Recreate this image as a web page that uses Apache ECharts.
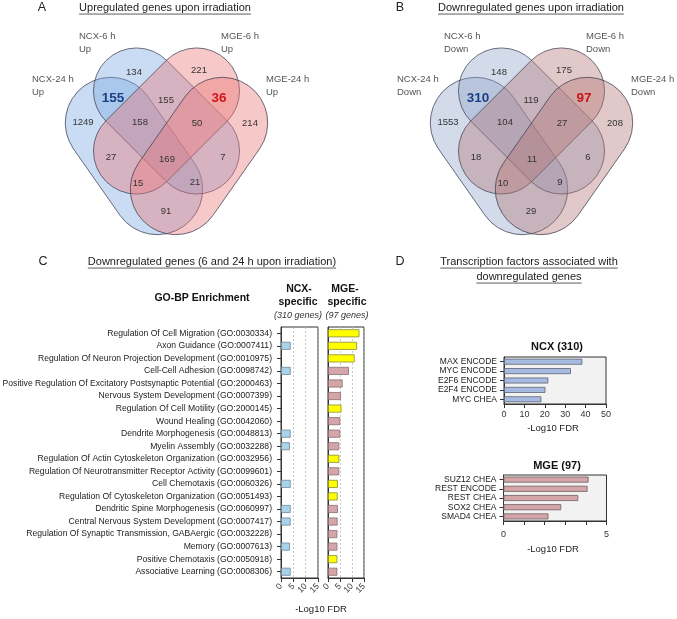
<!DOCTYPE html>
<html><head><meta charset="utf-8">
<script src="https://cdn.jsdelivr.net/npm/echarts@6/dist/echarts.min.js"></script>
<style>html,body{margin:0;padding:0;background:#fff}#c{width:677px;height:619px}</style>
</head><body><div id="c"></div>
<script>
// ---------------- DATA ----------------
const vennSetNames = ['NCX-24 h', 'NCX-6 h', 'MGE-6 h', 'MGE-24 h'];
// region keys: A=NCX-24h, B=NCX-6h, C=MGE-6h, D=MGE-24h
const vennRegions = ['A', 'B', 'C', 'D', 'AB', 'BC', 'CD', 'ABC', 'BCD', 'AC', 'ABCD', 'BD', 'ACD', 'ABD', 'AD'];
const vennUpCounts   = [1249, 134, 221, 214, 155, 155, 36, 158, 50, 27, 169, 7, 15, 21, 91];
const vennDownCounts = [1553, 148, 175, 208, 310, 119, 97, 104, 27, 18, 11, 6, 10, 9, 29];

const goTerms = [
  'Regulation Of Cell Migration (GO:0030334)',
  'Axon Guidance (GO:0007411)',
  'Regulation Of Neuron Projection Development (GO:0010975)',
  'Cell-Cell Adhesion (GO:0098742)',
  'Positive Regulation Of Excitatory Postsynaptic Potential (GO:2000463)',
  'Nervous System Development (GO:0007399)',
  'Regulation Of Cell Motility (GO:2000145)',
  'Wound Healing (GO:0042060)',
  'Dendrite Morphogenesis (GO:0048813)',
  'Myelin Assembly (GO:0032288)',
  'Regulation Of Actin Cytoskeleton Organization (GO:0032956)',
  'Regulation Of Neurotransmitter Receptor Activity (GO:0099601)',
  'Cell Chemotaxis (GO:0060326)',
  'Regulation Of Cytoskeleton Organization (GO:0051493)',
  'Dendritic Spine Morphogenesis (GO:0060997)',
  'Central Nervous System Development (GO:0007417)',
  'Regulation Of Synaptic Transmission, GABAergic (GO:0032228)',
  'Memory (GO:0007613)',
  'Positive Chemotaxis (GO:0050918)',
  'Associative Learning (GO:0008306)'
];
const goNcxSpecific = [null, 3.9, null, 3.9, null, null, null, null, 3.9, 3.6, null, null, 3.9, null, 3.9, 3.9, null, 3.6, null, 3.9];
const goMgeSpecific = [13.1, 12.1, 11.1, 8.7, 6.1, 5.4, 5.6, 5.1, 5.1, 4.7, 4.7, 4.7, 4.1, 4.0, 4.1, 4.0, 3.9, 3.9, 3.9, 3.9];
const goMgeHighlight = [true, true, true, false, false, false, true, false, false, false, true, false, true, true, false, false, false, false, true, false];
const goTicks = [0, 5, 10, 15];

const tfNcxNames = ['MAX ENCODE', 'MYC ENCODE', 'E2F6 ENCODE', 'E2F4 ENCODE', 'MYC CHEA'];
const tfNcxValues = [38.4, 32.8, 21.7, 20.3, 18.3];
const tfNcxTicks = [0, 10, 20, 30, 40, 50];
const tfMgeNames = ['SUZ12 CHEA', 'REST ENCODE', 'REST CHEA', 'SOX2 CHEA', 'SMAD4 CHEA'];
const tfMgeValues = [4.13, 4.08, 3.63, 2.8, 2.18];
const tfMgeTickLabels = [0, 5];

// ---------------- LAYOUT ----------------
const FF = '"Liberation Sans", Arial, Helvetica, sans-serif';
const vennRegionPos = {
  A: [83, 122], B: [134, 72], C: [199, 70], D: [250, 123],
  AB: [113, 98], BC: [166, 100], CD: [219, 98],
  ABC: [140, 122], BCD: [197, 123], AC: [111, 157], ABCD: [167, 159], BD: [223, 157],
  ACD: [138, 183], ABD: [195, 182], AD: [166, 211]
};
const MIRROR_X = 166.5;
const vennInner = { cx: 166.5, cy: 121, L: 171, W: 86, deg: 45 };
const vennOuter = { cx: 134, cy: 156, L: 172, W: 91, deg: 55 };
const vennLabelPos = [[32, 80], [79, 37], [221, 37], [266, 80]];

const G = [];
function txt(x, y, text, o) {
  o = o || {};
  G.push({
    type: 'text', x: x, y: y, silent: true, z: 10,
    style: {
      text: text, fill: o.fill || '#222', fontSize: o.size || 10, fontFamily: FF,
      fontWeight: o.weight || 'normal', fontStyle: o.style || 'normal',
      align: o.align || 'center', textAlign: o.align || 'center',
      verticalAlign: 'middle', textVerticalAlign: 'middle', lineHeight: o.lh || 12
    }
  });
}
const mctx = document.createElement('canvas').getContext('2d');
function tw(text, size, weight) { mctx.font = (weight || 'normal') + ' ' + size + 'px ' + FF; return mctx.measureText(text).width; }
function uline(x, y, text, size) {
  const w = tw(text, size);
  txt(x, y, text, { size: size, fill: '#222' });
  G.push({ type: 'line', silent: true, shape: { x1: x - w / 2, y1: y + size * 0.55, x2: x + w / 2, y2: y + size * 0.55 }, style: { stroke: '#333', lineWidth: 0.8 } });
}
function pill(dx, sh, mirror, fill) {
  const cx = mirror ? 2 * MIRROR_X - sh.cx : sh.cx;
  const rot = (mirror ? 1 : -1) * sh.deg * Math.PI / 180;
  G.push({
    type: 'rect', silent: true, x: cx + dx, y: sh.cy, rotation: rot,
    shape: { x: -sh.L / 2, y: -sh.W / 2, width: sh.L, height: sh.W, r: sh.W / 2 },
    style: { fill: fill, stroke: 'rgba(60,60,80,0.85)', lineWidth: 0.8 }
  });
}

function venn(dx, counts, suffix, blue, red, hiBlue, hiRed) {
  pill(dx, vennOuter, false, blue);   // NCX-24 h
  pill(dx, vennInner, false, blue);   // NCX-6 h
  pill(dx, vennInner, true, red);     // MGE-6 h
  pill(dx, vennOuter, true, red);     // MGE-24 h
  vennRegions.forEach((k, i) => {
    const p = vennRegionPos[k];
    if (k === 'AB') txt(p[0] + dx, p[1], String(counts[i]), { size: 13.5, weight: 'bold', fill: hiBlue });
    else if (k === 'CD') txt(p[0] + dx, p[1], String(counts[i]), { size: 13.5, weight: 'bold', fill: hiRed });
    else txt(p[0] + dx, p[1], String(counts[i]), { size: 9.5, fill: '#333' });
  });
  vennSetNames.forEach((n, i) => {
    const p = vennLabelPos[i];
    txt(p[0] + dx, p[1] + 6, n + '\n' + suffix, { size: 9.5, fill: '#555', align: 'left', lh: 12.5 });
  });
}
venn(0, vennUpCounts, 'Up', 'rgba(122,168,224,0.40)', 'rgba(236,118,118,0.40)', '#1b3f86', '#d0141a');
venn(365, vennDownCounts, 'Down', 'rgba(140,160,200,0.38)', 'rgba(180,112,112,0.38)', '#1b3f86', '#c8141a');

// panel letters and titles
txt(42, 8, 'A', { size: 12.5 });
txt(400, 8, 'B', { size: 12.5 });
txt(43, 262, 'C', { size: 12.5 });
txt(400, 262, 'D', { size: 12.5 });
uline(165, 8, 'Upregulated genes upon irradiation', 11);
uline(531, 8, 'Downregulated genes upon irradiation', 11);
uline(212, 262, 'Downregulated genes (6 and 24 h upon irradiation)', 11);
uline(529, 262, 'Transcription factors associated with', 11);
uline(529, 277, 'downregulated genes', 11);

// GO headers
txt(202, 298, 'GO-BP Enrichment', { size: 10.5, weight: 'bold', fill: '#111' });
txt(299, 289, 'NCX-', { size: 10.5, weight: 'bold', fill: '#111' });
txt(298, 302, 'specific', { size: 10.5, weight: 'bold', fill: '#111' });
txt(298, 315, '(310 genes)', { size: 9, style: 'italic', fill: '#333' });
txt(345, 289, 'MGE-', { size: 10.5, weight: 'bold', fill: '#111' });
txt(347, 302, 'specific', { size: 10.5, weight: 'bold', fill: '#111' });
txt(347, 315, '(97 genes)', { size: 9, style: 'italic', fill: '#333' });
txt(321, 609, '-Log10 FDR', { size: 9.5, fill: '#222' });

// TF titles
txt(557, 347, 'NCX (310)', { size: 11, weight: 'bold', fill: '#111' });
txt(553, 428, '-Log10 FDR', { size: 9.5, fill: '#222' });
txt(557, 466, 'MGE (97)', { size: 11, weight: 'bold', fill: '#111' });
txt(553, 549, '-Log10 FDR', { size: 9.5, fill: '#222' });

// ---------------- CHART ----------------
const axisColor = '#333';
const goMax = goTicks[goTicks.length - 1];
function goX(idx) {
  return {
    type: 'value', gridIndex: idx, position: 'bottom', min: goTicks[0], max: goMax, interval: goTicks[1] - goTicks[0],
    axisLine: { show: true, lineStyle: { color: axisColor, width: 1 } },
    axisTick: { show: true, length: 4, lineStyle: { color: axisColor } },
    axisLabel: { rotate: 45, fontSize: 8.5, color: '#333', margin: 7, fontFamily: FF, showMinLabel: true, formatter: v => v === goMax ? '' : String(v) },
    splitLine: { show: true, lineStyle: { type: [2, 2], color: '#bbb', width: 0.8 } }
  };
}
// second axis on the same grid that carries only the last tick label
function goXMax(idx) {
  return {
    type: 'value', gridIndex: idx, position: 'bottom', offset: 0, min: goTicks[0], max: goMax, interval: goTicks[1] - goTicks[0],
    axisLine: { show: false }, axisTick: { show: false }, splitLine: { show: false },
    axisLabel: { rotate: 45, fontSize: 8.5, color: '#333', margin: 7, fontFamily: FF, showMaxLabel: true, formatter: v => v === goMax ? String(v) : '' }
  };
}
const gridBase = { show: true, borderColor: '#333', borderWidth: 1, containLabel: false, outerBoundsMode: 'none' };

const option = {
  animation: false,
  backgroundColor: '#fff',
  textStyle: { fontFamily: FF },
  graphic: { elements: G },
  grid: [
    Object.assign({ left: 281, top: 327, width: 37, height: 251, backgroundColor: '#fff' }, gridBase),
    Object.assign({ left: 328, top: 327, width: 36, height: 251, backgroundColor: '#fff' }, gridBase),
    Object.assign({ left: 504, top: 357, width: 102, height: 47, backgroundColor: '#f2f2f2' }, gridBase),
    Object.assign({ left: 503.5, top: 475, width: 103, height: 46, backgroundColor: '#f2f2f2' }, gridBase)
  ],
  xAxis: [
    goX(0), goX(1),
    {
      type: 'value', gridIndex: 2, min: tfNcxTicks[0], max: tfNcxTicks[tfNcxTicks.length - 1], interval: tfNcxTicks[1] - tfNcxTicks[0],
      axisLine: { show: true, lineStyle: { color: axisColor } },
      axisTick: { show: true, length: 4, lineStyle: { color: axisColor } },
      axisLabel: { fontSize: 9, color: '#333', margin: 6, fontFamily: FF, showMinLabel: true, showMaxLabel: true },
      splitLine: { show: false }
    },
    {
      type: 'value', gridIndex: 3, min: 0, max: 5, interval: 1,
      axisLine: { show: true, lineStyle: { color: axisColor } },
      axisTick: { show: true, length: 4, lineStyle: { color: axisColor } },
      axisLabel: { fontSize: 9, color: '#333', margin: 9, fontFamily: FF, showMinLabel: true, showMaxLabel: true, formatter: v => tfMgeTickLabels.indexOf(v) >= 0 ? String(v) : '' },
      splitLine: { show: false }
    },
    goXMax(0), goXMax(1)
  ],
  yAxis: [
    {
      type: 'category', gridIndex: 0, data: goTerms, inverse: true,
      axisLine: { show: true, lineStyle: { color: axisColor } },
      axisTick: { show: true, alignWithLabel: true, length: 4, lineStyle: { color: axisColor } },
      axisLabel: { fontSize: 8.6, color: '#222', margin: 9, interval: 0, fontFamily: FF }
    },
    {
      type: 'category', gridIndex: 1, data: goTerms, inverse: true,
      axisLine: { show: true, lineStyle: { color: axisColor } },
      axisTick: { show: false }, axisLabel: { show: false }
    },
    {
      type: 'category', gridIndex: 2, data: tfNcxNames, inverse: true,
      axisLine: { show: true, lineStyle: { color: axisColor } },
      axisTick: { show: true, alignWithLabel: true, length: 4, lineStyle: { color: axisColor } },
      axisLabel: { fontSize: 8.5, color: '#222', margin: 7, interval: 0, fontFamily: FF }
    },
    {
      type: 'category', gridIndex: 3, data: tfMgeNames, inverse: true,
      axisLine: { show: true, lineStyle: { color: axisColor } },
      axisTick: { show: true, alignWithLabel: true, length: 4, lineStyle: { color: axisColor } },
      axisLabel: { fontSize: 8.5, color: '#222', margin: 7, interval: 0, fontFamily: FF }
    }
  ],
  series: [
    {
      type: 'bar', xAxisIndex: 0, yAxisIndex: 0, data: goNcxSpecific, barWidth: 8,
      itemStyle: { color: '#a9d3ea', borderColor: '#6f8796', borderWidth: 0.8 }
    },
    {
      type: 'bar', xAxisIndex: 1, yAxisIndex: 1, barWidth: 8,
      data: goMgeSpecific.map((v, i) => ({
        value: v,
        itemStyle: goMgeHighlight[i]
          ? { color: '#ffff00', borderColor: '#8c8a30', borderWidth: 0.8 }
          : { color: '#d5a6a9', borderColor: '#8a6c6e', borderWidth: 0.8 }
      }))
    },
    {
      type: 'bar', xAxisIndex: 2, yAxisIndex: 2, data: tfNcxValues, barWidth: 6,
      itemStyle: { color: '#a7bae2', borderColor: '#5d6570', borderWidth: 0.8 }
    },
    {
      type: 'bar', xAxisIndex: 3, yAxisIndex: 3, data: tfMgeValues, barWidth: 6,
      itemStyle: { color: '#d5a6a9', borderColor: '#6e5d5e', borderWidth: 0.8 }
    }
  ]
};
const chart = echarts.init(document.getElementById('c'), null, { renderer: 'canvas' });
chart.setOption(option);
</script>
</body></html>
